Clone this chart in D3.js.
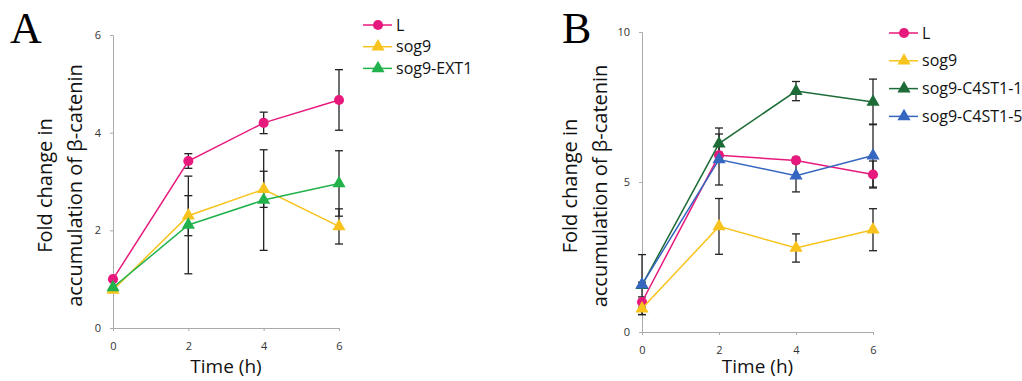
<!DOCTYPE html>
<html>
<head>
<meta charset="utf-8">
<script src="https://cdn.jsdelivr.net/npm/d3@7"></script>
<style>
  body { margin: 0; background: #fff; }
  svg text { font-family: "Open Sans", sans-serif; }
</style>
</head>
<body>
<div id="chart"></div>
<script>
// time points (h)
var times = [0, 2, 4, 6];

// panel A
var aL = [1.0, 3.42, 4.2, 4.67];
var aLErr = [0, 0.15, 0.22, 0.62];
var aSog9 = [0.78, 2.30, 2.84, 2.08];
var aSog9Err = [0, 0.41, 0.37, 0.36];
var aExt1 = [0.83, 2.11, 2.62, 2.96];
var aExt1Err = [0, 1.0, 1.03, 0.67];
var aYTicks = [0, 2, 4, 6];

// panel B
var bL = [1.0, 5.89, 5.72, 5.25];
var bLErr = [0.17, 0.1, 0.1, 0.45];
var bSog9 = [0.78, 3.52, 2.8, 3.41];
var bSog9Err = [0.2, 0.93, 0.47, 0.7];
var bC1 = [1.56, 6.28, 8.03, 7.67];
var bC1Err = [0.1, 0.52, 0.32, 0.76];
var bC5 = [1.58, 5.75, 5.21, 5.88];
var bC5Err = [1.0, 0.85, 0.54, 1.05];
var bYTicks = [0, 5, 10];

var xTicks = [0, 2, 4, 6];

var pink = "#e8197d", yellow = "#f7c31c", green = "#22b24c",
    dkgreen = "#1d6b37", blue = "#3566c0";

var w = 1022, h = 381;
var svg = d3.select("#chart").append("svg")
  .attr("width", w).attr("height", h);

function panel(opt) {
  var x = d3.scaleLinear().domain([0, 6]).range([opt.x0, opt.x1]);
  var y = d3.scaleLinear().domain([0, opt.ymax]).range([opt.y0, opt.y1]);
  var g = svg.append("g");

  // axes
  var ya = g.append("g").attr("transform", "translate(" + opt.x0 + ",0)")
    .call(d3.axisLeft(y).tickValues(opt.yTicks).tickFormat(d3.format("d"))
      .tickSize(3).tickPadding(9));
  var xa = g.append("g").attr("transform", "translate(0," + opt.y0 + ")")
    .call(d3.axisBottom(x).tickValues(xTicks).tickFormat(d3.format("d"))
      .tickSize(3).tickPadding(11));
  [ya, xa].forEach(function(a) {
    a.select(".domain").attr("stroke", "#aaa");
    a.selectAll(".tick line").attr("stroke", "#aaa");
    a.selectAll(".tick text").attr("fill", "#333").style("font-size", "11px");
  });

  // axis titles
  var cy = (opt.y0 + opt.y1) / 2 + 4;
  g.append("text")
    .attr("transform", "translate(" + opt.t1 + "," + cy + ") rotate(-90)")
    .attr("text-anchor", "middle").attr("dy", "0.35em")
    .style("font-size", "20px").attr("fill", "#111")
    .text("Fold change in");
  g.append("text")
    .attr("transform", "translate(" + (opt.t1 + 30) + "," + cy + ") rotate(-90)")
    .attr("text-anchor", "middle").attr("dy", "0.35em")
    .style("font-size", "20px").attr("fill", "#111")
    .text("accumulation of \u03b2-catenin");
  g.append("text")
    .attr("x", (opt.x0 + opt.x1) / 2).attr("y", 373)
    .attr("text-anchor", "middle")
    .style("font-size", "19px").attr("fill", "#111")
    .text("Time (h)");

  // panel letter
  g.append("text")
    .attr("x", opt.letterX).attr("y", 43)
    .style("font-family", "'Liberation Serif', serif")
    .style("font-size", "44px").attr("fill", "#000")
    .text(opt.letter);

  // error bars
  opt.series.forEach(function(s) {
    var eb = g.append("g").attr("stroke", "#222").attr("stroke-width", 1.3);
    s.values.forEach(function(v, i) {
      var e = s.err[i];
      if (!e) return;
      var cx = x(times[i]);
      eb.append("line").attr("x1", cx).attr("x2", cx)
        .attr("y1", y(v - e)).attr("y2", y(v + e));
      [v - e, v + e].forEach(function(c) {
        eb.append("line").attr("x1", cx - 4).attr("x2", cx + 4)
          .attr("y1", y(c)).attr("y2", y(c));
      });
    });
  });

  // lines and markers
  var line = d3.line().x(function(d, i) { return x(times[i]); }).y(function(d) { return y(d); });
  opt.series.forEach(function(s) {
    g.append("path").datum(s.values)
      .attr("d", line).attr("fill", "none")
      .attr("stroke", s.color).attr("stroke-width", 1.5);
    g.selectAll(null).data(s.values).enter().append("path")
      .attr("transform", function(d, i) { return "translate(" + x(times[i]) + "," + y(d) + ")"; })
      .attr("d", d3.symbol().type(s.shape).size(s.shape === d3.symbolCircle ? 80 : 75))
      .attr("fill", s.color);
  });

  // legend
  var lg = g.selectAll(".legend").data(opt.series).enter().append("g")
    .attr("transform", function(d, i) {
      return "translate(" + opt.legX + "," + (opt.legY + i * opt.legStep) + ")";
    });
  lg.append("line").attr("x1", 0).attr("x2", 29)
    .attr("stroke", function(d) { return d.color; }).attr("stroke-width", 1.5);
  lg.append("path").attr("transform", "translate(15,0)")
    .attr("d", function(d) { return d3.symbol().type(d.shape).size(d.shape === d3.symbolCircle ? 80 : 75)(); })
    .attr("fill", function(d) { return d.color; });
  lg.append("text").attr("x", 33).attr("dy", "0.35em")
    .style("font-size", "16px").attr("fill", "#111")
    .text(function(d) { return d.name; });
}

panel({
  x0: 113, x1: 339, y0: 328, y1: 35, ymax: 6, yTicks: aYTicks,
  t1: 45, letter: "A", letterX: 10,
  legX: 363, legY: 25, legStep: 21.7,
  series: [
    { name: "L", values: aL, err: aLErr, color: pink, shape: d3.symbolCircle },
    { name: "sog9", values: aSog9, err: aSog9Err, color: yellow, shape: d3.symbolTriangle },
    { name: "sog9-EXT1", values: aExt1, err: aExt1Err, color: green, shape: d3.symbolTriangle }
  ]
});

panel({
  x0: 642, x1: 873, y0: 332, y1: 32, ymax: 10, yTicks: bYTicks,
  t1: 570, letter: "B", letterX: 562,
  legX: 889, legY: 33, legStep: 27.8,
  series: [
    { name: "L", values: bL, err: bLErr, color: pink, shape: d3.symbolCircle },
    { name: "sog9", values: bSog9, err: bSog9Err, color: yellow, shape: d3.symbolTriangle },
    { name: "sog9-C4ST1-1", values: bC1, err: bC1Err, color: dkgreen, shape: d3.symbolTriangle },
    { name: "sog9-C4ST1-5", values: bC5, err: bC5Err, color: blue, shape: d3.symbolTriangle }
  ]
});
</script>
</body>
</html>
